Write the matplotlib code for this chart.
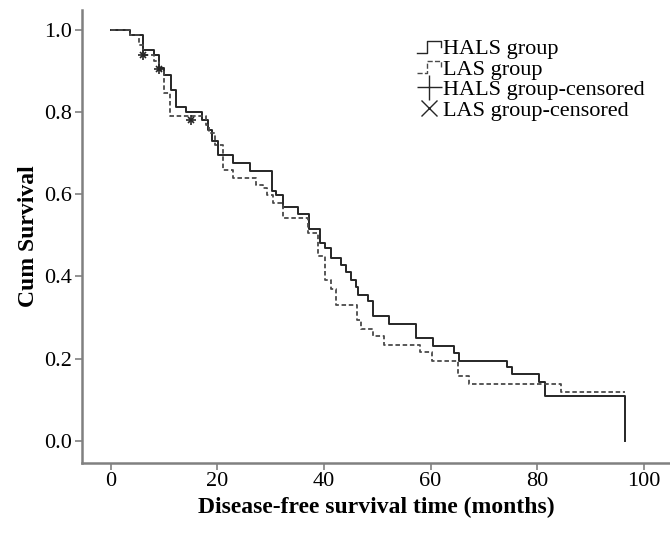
"""Kaplan-Meier disease-free survival, HALS vs LAS."""

import matplotlib
matplotlib.use("Agg")
import matplotlib.pyplot as plt
from matplotlib.legend_handler import HandlerBase
from matplotlib.lines import Line2D

plt.rcParams["font.family"] = ["Liberation Serif", "DejaVu Serif"]

# HALS group (solid), step times in months and survival after each step
hals_t = [0, 3.6, 6.0, 8.1, 9.0, 10.1, 11.4, 12.3, 14.2, 17.2, 18.2, 19.1,
          20.1, 22.9, 26.2, 30.3, 31.1, 32.3, 35.1, 37.2, 39.2, 40.2, 41.4,
          43.3, 44.2, 45.1, 46.0, 46.4, 48.3, 49.2, 52.3, 57.3, 60.4, 64.4,
          65.3, 74.4, 75.3, 80.3, 81.4, 96.4]
hals_s = [1.0, 0.988, 0.951, 0.939, 0.908, 0.890, 0.854, 0.813, 0.801, 0.781,
          0.757, 0.730, 0.696, 0.676, 0.658, 0.607, 0.599, 0.570, 0.552, 0.515,
          0.481, 0.469, 0.445, 0.428, 0.412, 0.392, 0.375, 0.355, 0.339, 0.303,
          0.285, 0.250, 0.231, 0.213, 0.195, 0.179, 0.163, 0.144, 0.108, 0.0]

# LAS group (dashed)
las_t = [0, 3.6, 5.4, 6.0, 8.1, 9.0, 10.1, 11.1, 17.9, 18.5, 19.5, 21.0,
         23.0, 27.2, 28.6, 29.3, 30.5, 32.3, 37.0, 38.9, 40.2, 41.4, 42.2,
         46.2, 47.0, 49.2, 51.2, 58.1, 60.3, 65.2, 67.3, 84.4, 96.4]
las_s = [1.0, 0.988, 0.964, 0.939, 0.925, 0.903, 0.847, 0.790, 0.770, 0.750,
         0.720, 0.660, 0.639, 0.623, 0.615, 0.599, 0.580, 0.542, 0.505, 0.449,
         0.392, 0.369, 0.331, 0.294, 0.272, 0.254, 0.234, 0.215, 0.195, 0.158,
         0.139, 0.119, 0.119]

# censored observations
hals_cens_t = [6.0, 9.0, 15.1]
hals_cens_s = [0.940, 0.905, 0.780]
las_cens_t = [6.0, 9.0, 15.1]
las_cens_s = [0.940, 0.905, 0.780]

labels = ["HALS group", "LAS group", "HALS group-censored",
          "LAS group-censored"]

solid_c = "#262626"
dash_c = "#4a4a4a"
grey = "#808080"


class StepHandler(HandlerBase):
    """Draw a small step shape as legend key."""

    def create_artists(self, legend, orig, xd, yd, w, h, fontsize, trans):
        x0 = -xd
        y0 = -yd
        xs = [x0, x0 + 0.42 * w, x0 + 0.42 * w, x0 + w, x0 + w]
        ys = [y0 + 0.1 * h, y0 + 0.1 * h, y0 + 0.85 * h, y0 + 0.85 * h,
              y0 + 0.45 * h]
        ln = Line2D(xs, ys, color=orig.get_color(), ls=orig.get_linestyle(),
                    lw=1.0, transform=trans)
        return [ln]


fig = plt.figure(figsize=(6.7, 5.35), dpi=100)
ax = fig.add_axes([0.122, 0.135, 0.878, 0.847])

h_line, = ax.step(hals_t, hals_s, where="post", color=solid_c, lw=1.4)
l_line, = ax.step(las_t, las_s, where="post", color=dash_c, lw=1.3,
                  ls=(0, (2.5, 1.5)))
ax.plot(hals_cens_t, hals_cens_s, ls="", marker="+", ms=7, mew=1.2,
        color=solid_c)
ax.plot(las_cens_t, las_cens_s, ls="", marker="x", ms=5, mew=1.2,
        color=solid_c)

ax.set_xlim(-5.4, 104.9)
ax.set_ylim(-0.054, 1.05)
ax.set_xticks([0, 20, 40, 60, 80, 100])
ax.set_yticks([0.0, 0.2, 0.4, 0.6, 0.8, 1.0])
ax.set_yticklabels([f"{v:.1f}" for v in ax.get_yticks()])
for side in ["top", "right"]:
    ax.spines[side].set_visible(False)
for side in ["left", "bottom"]:
    ax.spines[side].set_color(grey)
    ax.spines[side].set_linewidth(1.8)
ax.tick_params(colors=grey, labelcolor="black", labelsize=16, width=1.2,
               length=5, pad=2)

ax.set_xlabel("Disease-free survival time (months)", fontsize=17,
              fontweight="bold", labelpad=4)
ax.set_ylabel("Cum Survival", fontsize=17, fontweight="bold", labelpad=4)

# legend keys: larger thin markers than in the plot
h_key = Line2D([], [], ls="", marker="+", ms=18, mew=1.0, color=solid_c)
l_key = Line2D([], [], ls="", marker="x", ms=12, mew=1.0, color=solid_c)
fig.legend(
    [h_line, l_line, h_key, l_key], labels,
    handler_map={h_line: StepHandler(), l_line: StepHandler()},
    loc="upper left", bbox_to_anchor=(0.622, 0.928), frameon=False,
    fontsize=16, handlelength=1.1, handletextpad=0.1, labelspacing=0.0,
    borderpad=0, borderaxespad=0,
)

fig.savefig("out.png", dpi=100)
